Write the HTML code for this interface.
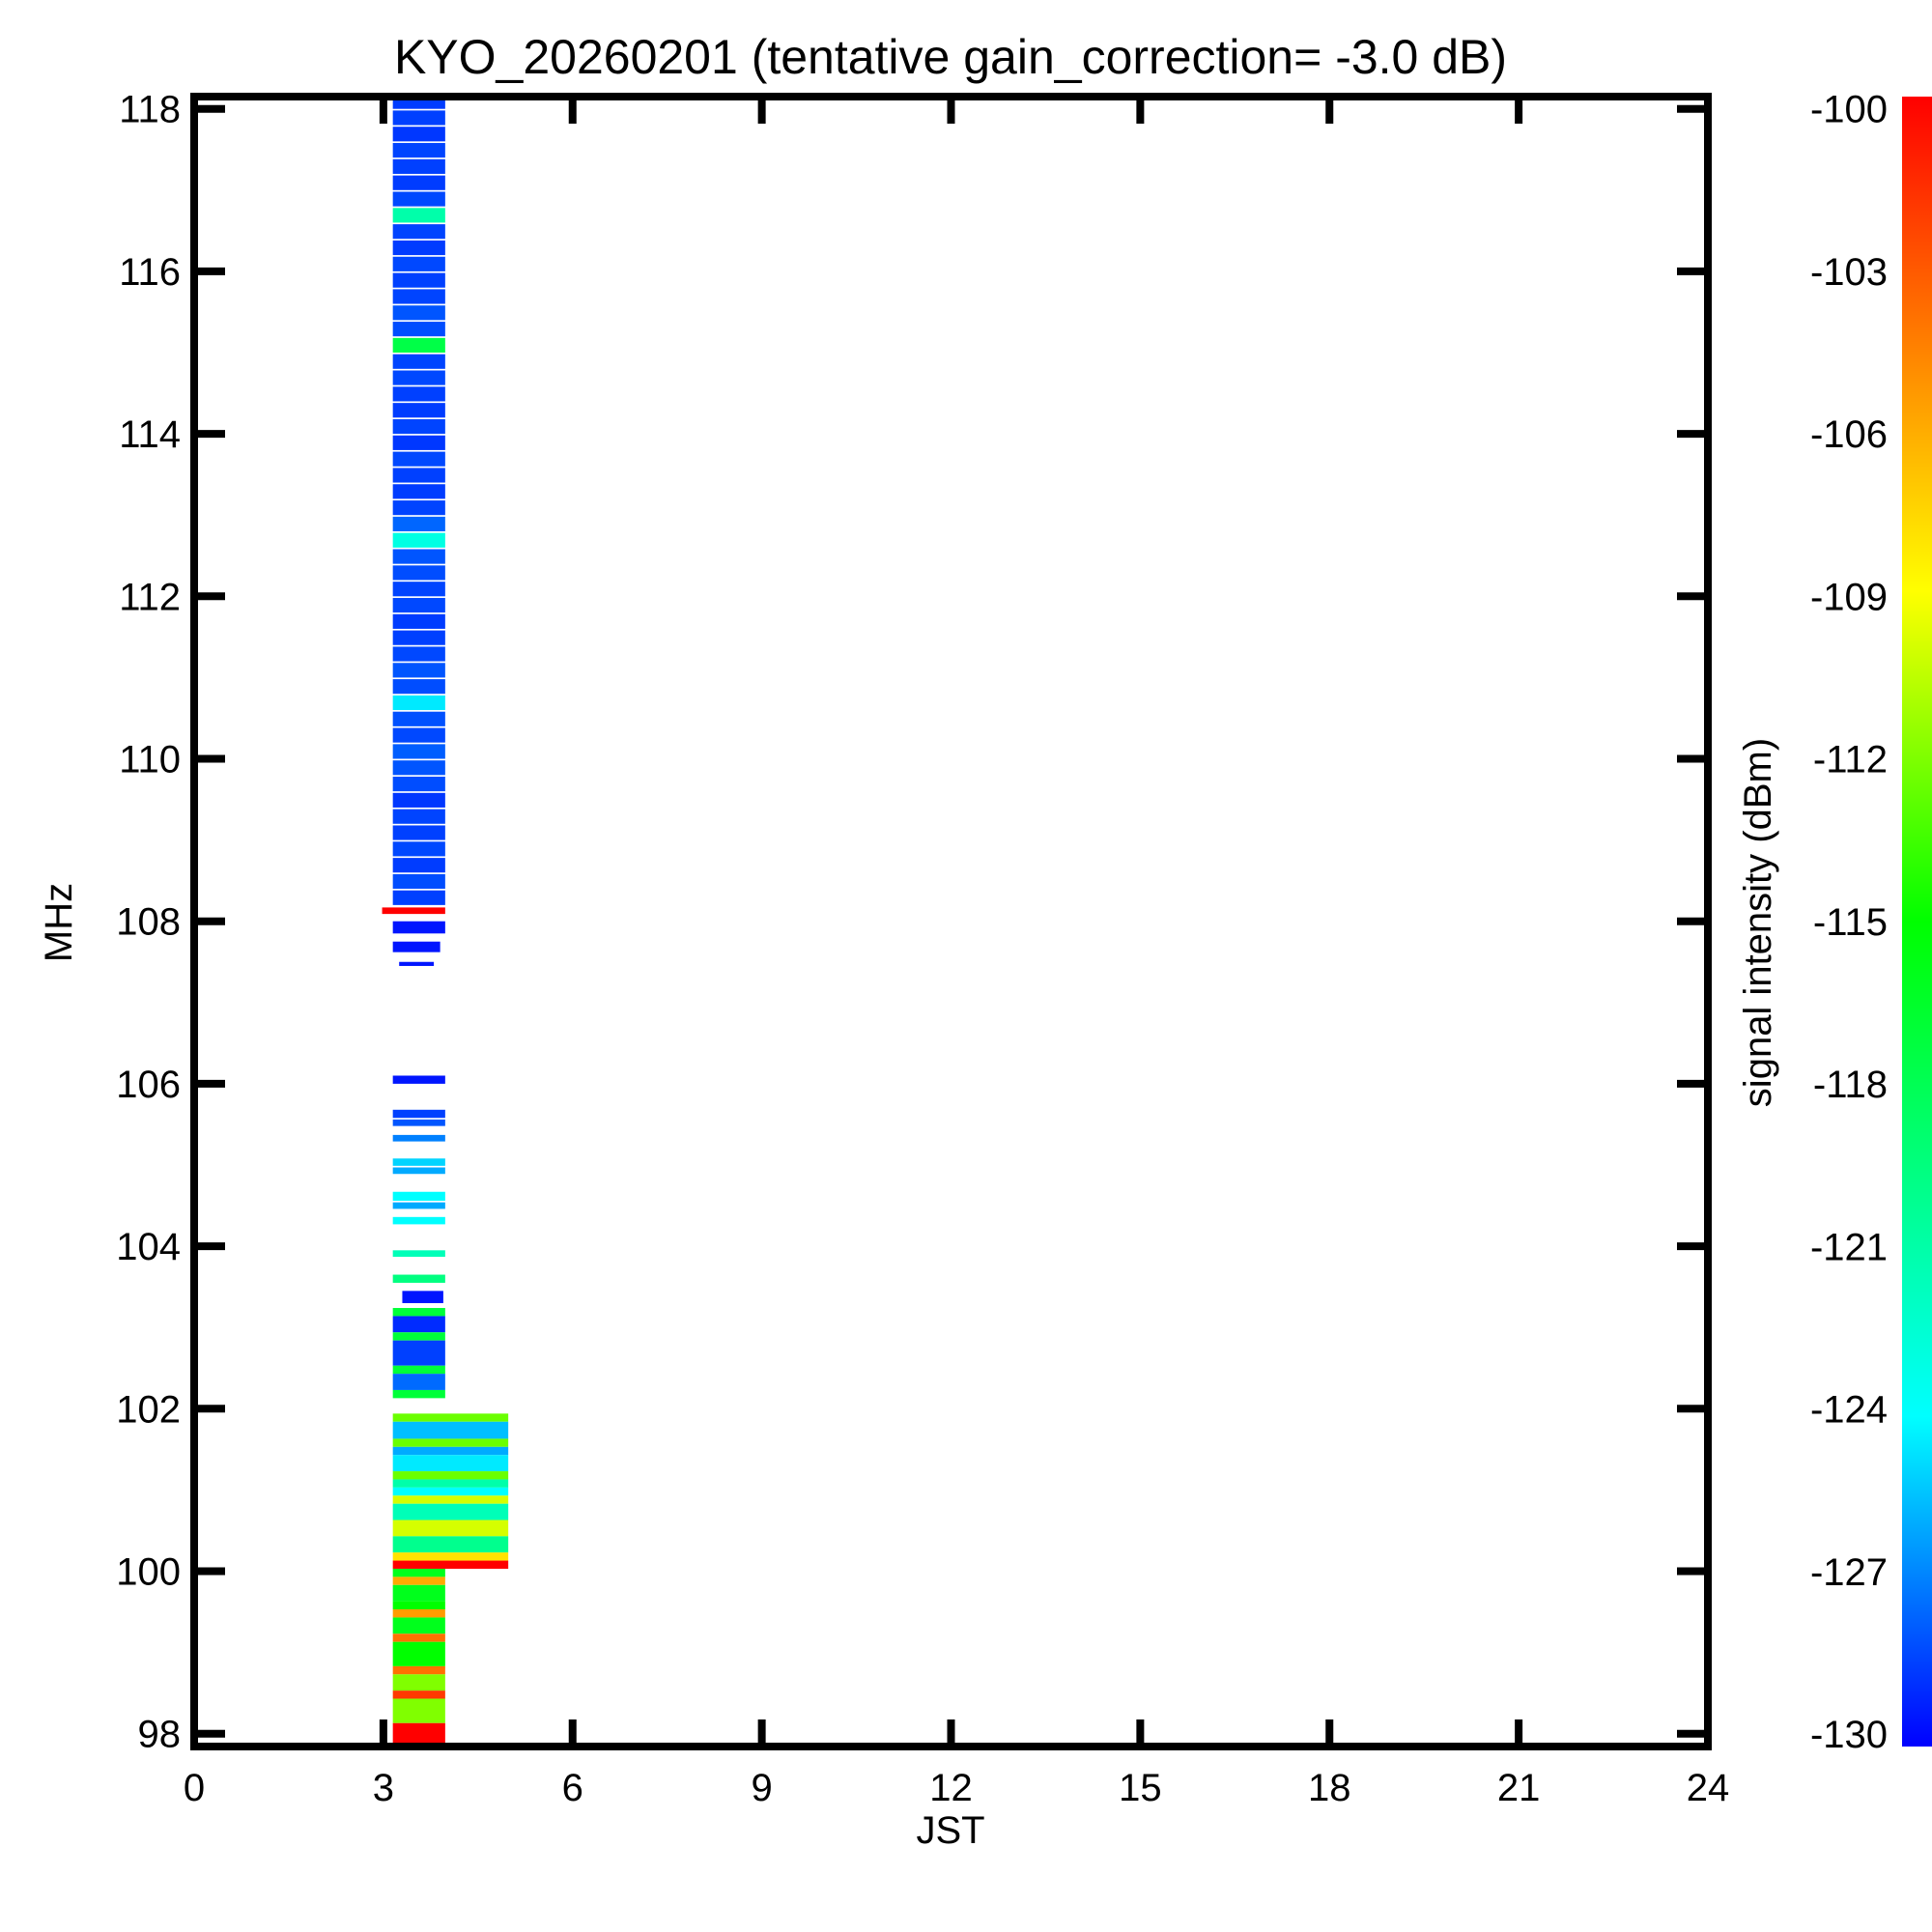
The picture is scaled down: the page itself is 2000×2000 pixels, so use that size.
<!DOCTYPE html>
<html><head><meta charset="utf-8"><style>
html,body{margin:0;padding:0;background:#fff;}
svg{display:block;font-family:"Liberation Sans",sans-serif;}
</style></head><body>
<svg id="chart" width="2000" height="2000" viewBox="0 0 2000 2000">
<defs>
<linearGradient id="cbgrad" x1="0" y1="1" x2="0" y2="0">
<stop offset="0" stop-color="hsl(240,100%,50%)"/><stop offset="0.2" stop-color="hsl(180,100%,50%)"/><stop offset="0.5" stop-color="hsl(120,100%,50%)"/><stop offset="0.7" stop-color="hsl(60,100%,50%)"/><stop offset="1" stop-color="hsl(0,100%,50%)"/>
</linearGradient>
</defs>
<text x="984" y="76" font-size="50" text-anchor="middle">KYO_20260201 (tentative gain_correction= -3.0 dB)</text>
<g id="cells"></g>
<g id="axes"></g>
<text x="0" y="0" font-size="40" text-anchor="middle" transform="translate(74,955) rotate(-90)">MHz</text>
<text x="984" y="1908" font-size="40" text-anchor="middle">JST</text>
<text x="0" y="0" font-size="40" text-anchor="middle" transform="translate(1833,955) rotate(-90)">signal intensity (dBm)</text>
<rect x="1969" y="100" width="31" height="1708" fill="url(#cbgrad)"/>
<g id="cbticks"></g>
</svg>
<script>
const xTicks=[0,3,6,9,12,15,18,21,24];
const yTicks=[98,100,102,104,106,108,110,112,114,116,118];
const cbTicks=[-100,-103,-106,-109,-112,-115,-118,-121,-124,-127,-130];
// upper region rows (lower edge MHz) and values (dBm)
const upperFreq=[108.2,108.4,108.6,108.8,109.0,109.2,109.4,109.6,109.8,110.0,110.2,110.4,110.6,110.8,111.0,111.2,111.4,111.6,111.8,112.0,112.2,112.4,112.6,112.8,113.0,113.2,113.4,113.6,113.8,114.0,114.2,114.4,114.6,114.8,115.0,115.2,115.4,115.6,115.8,116.0,116.2,116.4,116.6,116.8,117.0,117.2,117.4,117.6,117.8,118.0];
const upperVal=[-128.5,-128.2,-128.6,-128.3,-128.5,-128.4,-128.7,-128.2,-128.0,-127.8,-128.3,-128.1,-124.5,-128.2,-128.0,-128.3,-128.5,-128.6,-128.3,-128.4,-128.2,-128.0,-123.0,-127.6,-128.4,-128.6,-128.5,-128.3,-128.7,-128.4,-128.6,-128.5,-128.3,-128.4,-117.5,-128.2,-128.0,-128.4,-128.5,-128.3,-128.6,-128.4,-121.0,-128.3,-128.6,-128.5,-128.4,-128.7,-128.5,-128.6];
// lower region bands
const bandLo=[108.09,107.85,107.62,107.45,106.0,105.58,105.48,105.29,104.99,104.89,104.56,104.46,104.27,103.87,103.55,103.3,103.14,102.94,102.84,102.53,102.43,102.23,102.13,101.84,101.63,101.53,101.43,101.23,101.13,101.03,100.93,100.83,100.63,100.43,100.23,100.13,100.03,99.93,99.83,99.63,99.53,99.43,99.23,99.13,98.83,98.73,98.53,98.43,98.13,97.85];
const bandHi=[108.17,108.0,107.75,107.5,106.1,105.68,105.56,105.37,105.08,104.97,104.67,104.54,104.36,103.95,103.65,103.45,103.24,103.14,102.94,102.84,102.53,102.43,102.23,101.94,101.84,101.63,101.53,101.43,101.23,101.13,101.03,100.93,100.83,100.63,100.43,100.23,100.13,100.03,99.93,99.83,99.63,99.53,99.43,99.23,99.13,98.83,98.73,98.53,98.43,98.13];
const bandT0=[2.98,3.15,3.15,3.25,3.15,3.15,3.15,3.15,3.15,3.15,3.15,3.15,3.15,3.15,3.15,3.3,3.15,3.15,3.15,3.15,3.15,3.15,3.15,3.15,3.15,3.15,3.15,3.15,3.15,3.15,3.15,3.15,3.15,3.15,3.15,3.15,3.15,3.15,3.15,3.15,3.15,3.15,3.15,3.15,3.15,3.15,3.15,3.15,3.15,3.15];
const bandT1=[3.98,3.98,3.9,3.8,3.98,3.98,3.98,3.98,3.98,3.98,3.98,3.98,3.98,3.98,3.98,3.95,3.98,3.98,3.98,3.98,3.98,3.98,3.98,4.98,4.98,4.98,4.98,4.98,4.98,4.98,4.98,4.98,4.98,4.98,4.98,4.98,4.98,3.98,3.98,3.98,3.98,3.98,3.98,3.98,3.98,3.98,3.98,3.98,3.98,3.98];
const bandVal=[-100,-129.5,-129.5,-129.5,-129.5,-128.5,-128,-127,-125,-126,-124,-126,-124,-121.5,-119.5,-129.5,-117,-129,-117,-128.5,-117,-127.5,-117,-112.5,-125.5,-112.5,-126,-124.5,-112.5,-121,-124,-110,-121.5,-110,-120,-108,-100,-116,-106,-116,-115,-105.5,-116,-104,-115,-104,-112,-102,-112,-100];

const NS='http://www.w3.org/2000/svg';
const X0=201,X1=1768,Y0=100,Y1=1808;
function xs(h){return X0+h*(X1-X0)/24;}
function ys(f){return 112.7+(118-f)*84.1;}
const cmapV=[-130,-124,-115,-109,-100], cmapH=[240,180,120,60,0];
function color(v){
  v=Math.max(-130,Math.min(-100,v));
  let h=0;
  for(let i=0;i<cmapV.length-1;i++){
    if(v>=cmapV[i]&&v<=cmapV[i+1]){const t=(v-cmapV[i])/(cmapV[i+1]-cmapV[i]);h=cmapH[i]+t*(cmapH[i+1]-cmapH[i]);break;}
  }
  return 'hsl('+h.toFixed(1)+',100%,50%)';
}
function mk(tag,attrs,parent){const e=document.createElementNS(NS,tag);for(const k in attrs)e.setAttribute(k,attrs[k]);parent.appendChild(e);return e;}
const cells=document.getElementById('cells');
const clipTop=ys(118.15);
for(let i=0;i<upperFreq.length;i++){
  const top=Math.max(clipTop,ys(upperFreq[i]+0.18));
  const r=mk('rect',{x:xs(3.15),y:top,width:xs(3.98)-xs(3.15),height:ys(upperFreq[i])-top,fill:color(upperVal[i])},cells);
  
  
}
for(let i=0;i<bandLo.length;i++){
  const r=mk('rect',{x:xs(bandT0[i]),y:ys(bandHi[i]),width:xs(bandT1[i])-xs(bandT0[i]),height:ys(bandLo[i])-ys(bandHi[i]),fill:color(bandVal[i])},cells);
  
  
}
const axes=document.getElementById('axes');
const fr=mk('rect',{x:X0,y:Y0,width:X1-X0,height:Y1-Y0,fill:'none',stroke:'#000','stroke-width':8},axes);


xTicks.forEach(h=>{
  const x=xs(h);
  if(h>0&&h<24){
    const a=mk('line',{x1:x,y1:Y1,x2:x,y2:Y1-28,stroke:'#000','stroke-width':8},axes);
    
    
    const b=mk('line',{x1:x,y1:Y0,x2:x,y2:Y0+28,stroke:'#000','stroke-width':8},axes);
    
    
  }
  const t=mk('text',{x:x,y:1864,'font-size':40,'text-anchor':'middle'},axes);
  t.textContent=h;
  
  
});
yTicks.forEach(f=>{
  const y=ys(f);
  const a=mk('line',{x1:X0,y1:y,x2:X0+32,y2:y,stroke:'#000','stroke-width':8},axes);
  
  
  const b=mk('line',{x1:X1,y1:y,x2:X1-32,y2:y,stroke:'#000','stroke-width':8},axes);
  
  
  const t=mk('text',{x:187,y:y+14,'font-size':40,'text-anchor':'end'},axes);
  t.textContent=f;
  
  
});
const cbt=document.getElementById('cbticks');
cbTicks.forEach(v=>{
  const y=112.7+(-100-v)*(1795-112.7)/30;
  const t=mk('text',{x:1954,y:y+14,'font-size':40,'text-anchor':'end'},cbt);
  t.textContent=v;
  
  
});
</script>
</body></html>
